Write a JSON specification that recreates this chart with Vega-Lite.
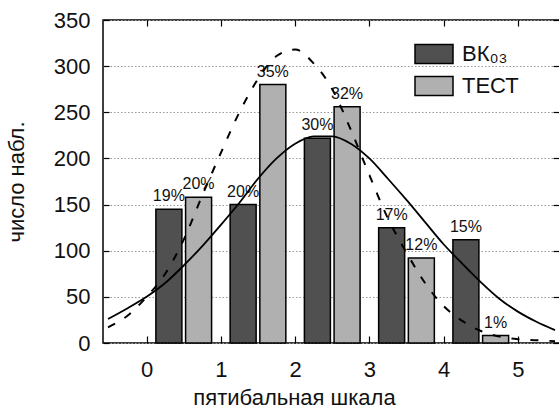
{
  "$schema": "https://vega.github.io/schema/vega-lite/v6.json",
  "width": 457,
  "height": 323,
  "autosize": {"type": "none"},
  "padding": {"left": 103, "top": 20, "right": 0, "bottom": 66},
  "background": "white",
  "config": {
    "font": "Liberation Sans",
    "view": {"stroke": "black", "strokeWidth": 1.5},
    "axis": {
      "domain": false,
      "tickColor": "black",
      "tickWidth": 1.2,
      "labelColor": "#111111",
      "titleColor": "#111111",
      "labelFontSize": 22,
      "titleFontSize": 22,
      "titleFontWeight": "normal"
    }
  },
  "resolve": {"axis": {"x": "independent", "y": "independent"}},
  "layer": [
    {
      "data": {
        "name": "bars",
        "values": [
          {"pos": 0.3, "group": "ВК₀₃", "count": 145, "pct": "19%"},
          {"pos": 0.7, "group": "ТЕСТ", "count": 158, "pct": "20%"},
          {"pos": 1.3, "group": "ВК₀₃", "count": 150, "pct": "20%"},
          {"pos": 1.7, "group": "ТЕСТ", "count": 280, "pct": "35%"},
          {"pos": 2.3, "group": "ВК₀₃", "count": 222, "pct": "30%"},
          {"pos": 2.7, "group": "ТЕСТ", "count": 256, "pct": "32%"},
          {"pos": 3.3, "group": "ВК₀₃", "count": 125, "pct": "17%"},
          {"pos": 3.7, "group": "ТЕСТ", "count": 92, "pct": "12%"},
          {"pos": 4.3, "group": "ВК₀₃", "count": 112, "pct": "15%"},
          {"pos": 4.7, "group": "ТЕСТ", "count": 8, "pct": "1%"}
        ]
      },
      "mark": {"type": "bar", "width": 26, "stroke": "black", "strokeWidth": 1.5, "opacity": 1},
      "encoding": {
        "x": {
          "field": "pos", "type": "quantitative",
          "scale": {"domain": [-0.52, 5.5], "nice": false, "zero": false},
          "axis": {
            "orient": "bottom", "values": [0, 1, 2, 3, 4, 5], "tickSize": -7,
            "labelPadding": 23, "grid": false,
            "title": "пятибальная шкала", "titleX": 191, "titleY": 61, "titleBaseline": "alphabetic"
          }
        },
        "y": {
          "field": "count", "type": "quantitative",
          "scale": {"domain": [0, 350], "nice": false},
          "axis": {
            "orient": "left", "values": [0, 50, 100, 150, 200, 250, 300, 350], "tickSize": -6,
            "labelPadding": 19, "grid": true, "gridColor": "#999999", "gridDash": [1.5, 2], "gridWidth": 1,
            "title": "число набл.", "titleX": -80, "titleY": 161.5, "titleBaseline": "alphabetic", "titleAngle": -90
          }
        },
        "fill": {
          "field": "group", "type": "nominal",
          "scale": {"domain": ["ВК₀₃", "ТЕСТ"], "range": ["#505050", "#b0b0b0"]},
          "legend": {
            "orient": "none", "legendX": 320, "legendY": 23, "title": null,
            "symbolType": "M-2,-1H2V1H-2Z", "symbolSize": 361,
            "symbolStrokeColor": "black", "symbolStrokeWidth": 1.5, "symbolOpacity": 1,
            "labelFontSize": 22, "labelColor": "#111111", "labelOffset": 17, "rowPadding": 6
          }
        }
      }
    },
    {
      "data": {"name": "bars"},
      "mark": {"type": "text", "baseline": "alphabetic", "dy": -8, "fontSize": 16, "color": "#111111"},
      "encoding": {
        "x": {"field": "pos", "type": "quantitative", "axis": null},
        "y": {"field": "count", "type": "quantitative", "axis": null},
        "text": {"field": "pct"}
      }
    },
    {
      "data": {
        "values": [
          {"s": -0.52, "n": 26}, {"s": -0.25, "n": 38}, {"s": 0, "n": 50}, {"s": 0.25, "n": 65},
          {"s": 0.5, "n": 84}, {"s": 0.75, "n": 105}, {"s": 1, "n": 128}, {"s": 1.25, "n": 152},
          {"s": 1.5, "n": 178}, {"s": 1.75, "n": 200}, {"s": 2, "n": 216}, {"s": 2.25, "n": 224},
          {"s": 2.5, "n": 224}, {"s": 2.75, "n": 216}, {"s": 3, "n": 200}, {"s": 3.25, "n": 178},
          {"s": 3.5, "n": 155}, {"s": 3.75, "n": 131}, {"s": 4, "n": 107}, {"s": 4.25, "n": 86},
          {"s": 4.5, "n": 66}, {"s": 4.75, "n": 48}, {"s": 5, "n": 34}, {"s": 5.25, "n": 23},
          {"s": 5.5, "n": 14}
        ]
      },
      "mark": {"type": "line", "color": "black", "strokeWidth": 1.8, "interpolate": "monotone", "clip": true},
      "encoding": {
        "x": {"field": "s", "type": "quantitative",
          "axis": {"orient": "top", "values": [0, 1, 2, 3, 4, 5], "labels": false, "tickSize": -6, "grid": false, "title": null}},
        "y": {"field": "n", "type": "quantitative",
          "axis": {"orient": "right", "values": [0, 50, 100, 150, 200, 250, 300, 350], "labels": false, "tickSize": -7, "grid": false, "title": null}}
      }
    },
    {
      "data": {
        "values": [
          {"s": -0.52, "n": 17}, {"s": -0.25, "n": 30}, {"s": 0, "n": 50}, {"s": 0.25, "n": 75},
          {"s": 0.5, "n": 112}, {"s": 0.75, "n": 160}, {"s": 1, "n": 206}, {"s": 1.25, "n": 250},
          {"s": 1.5, "n": 286}, {"s": 1.75, "n": 311}, {"s": 2, "n": 318}, {"s": 2.25, "n": 303},
          {"s": 2.5, "n": 275}, {"s": 2.75, "n": 231}, {"s": 3, "n": 182}, {"s": 3.25, "n": 135},
          {"s": 3.5, "n": 98}, {"s": 3.75, "n": 65}, {"s": 4, "n": 40}, {"s": 4.25, "n": 24},
          {"s": 4.5, "n": 13}, {"s": 4.75, "n": 7}, {"s": 5, "n": 4}, {"s": 5.25, "n": 3},
          {"s": 5.5, "n": 2}
        ]
      },
      "mark": {"type": "line", "color": "black", "strokeWidth": 2, "strokeDash": [8, 11], "interpolate": "monotone", "clip": true},
      "encoding": {
        "x": {"field": "s", "type": "quantitative", "axis": null},
        "y": {"field": "n", "type": "quantitative", "axis": null}
      }
    }
  ]
}
